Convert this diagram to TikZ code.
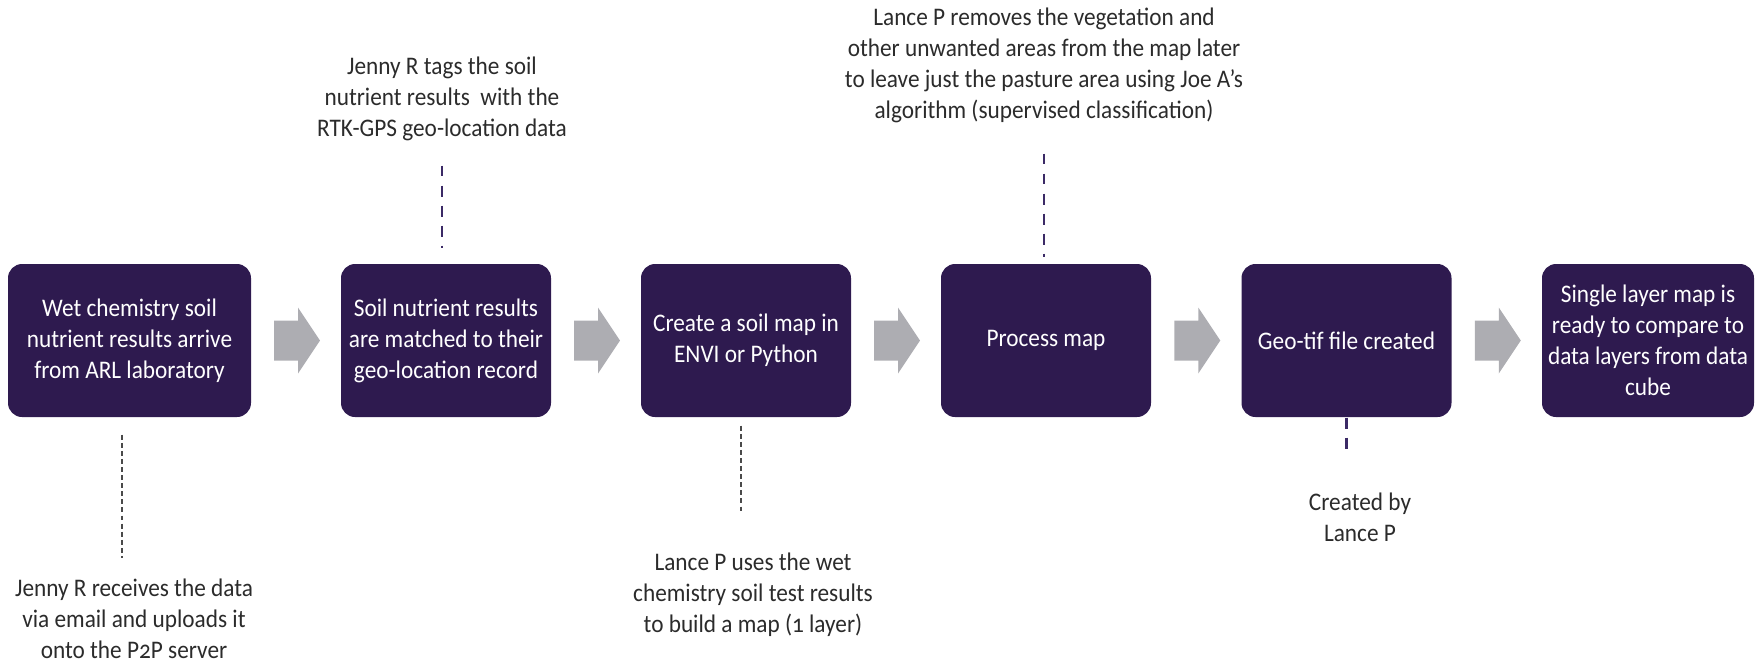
\documentclass[tikz,border=0pt]{standalone}
\usepackage{fontspec}
\setmainfont{Carlito}[Numbers=OldStyle,FakeStretch=0.92]
\usepackage{xcolor}
\usepackage{tikz}
\usetikzlibrary{positioning,calc}
\definecolor{BoxPurple}{HTML}{2E1A4F}
\definecolor{LinePurple}{HTML}{3B2A66}
\definecolor{ArrowGray}{HTML}{ADADB2}
\definecolor{TextDark}{HTML}{2B2B2B}
\definecolor{LineGray}{HTML}{4A4A4A}

\begin{document}
\begin{tikzpicture}[every node/.style={font=\fontsize{7.2}{8.8}\selectfont},
          stage/.style={fill=BoxPurple,rounded corners=4pt,minimum width=2.10cm,
            minimum height=1.53cm,inner sep=0pt,align=center,text=white},
          note/.style={align=center,inner sep=0pt,text=TextDark},
          owner/.style={LinePurple,line width=0.6pt,dash pattern=on 3.1pt off 2.6pt},
          helper/.style={LineGray,line width=0.35pt,dash pattern=on 1.4pt off 0.9pt},
          flow/.style={fill=ArrowGray}]
        \useasboundingbox (0,0) rectangle (17.57,-6.63);
        % process steps
        \node[stage,minimum width=2.43cm] (b1) at (1.295,-3.405)
        {Wet chemistry soil\\nutrient results arrive\\from ARL laboratory};
        \node[stage] (b2) at (4.46,-3.405)
        {Soil nutrient results\\are matched to their\\geo-location record};
        \node[stage] (b3) at (7.46,-3.405)
        {Create a soil map in\\ENVI or Python};
        \node[stage] (b4) at (10.46,-3.405) {Process map};
        \node[stage] (b5) at (13.465,-3.405) {Geo-tif file created};
        \node[stage,minimum width=2.12cm] (b6) at (16.48,-3.405)
        {Single layer map is\\ready to compare to\\data layers from data\\cube};
        % who does what
        \node[note] (n1) at (1.34,-6.19)
        {Jenny R receives the data\\via email and uploads it\\onto the P2P server};
        \node[note] (n2) at (4.42,-0.99)
        {Jenny R tags the soil\\nutrient results\ \ with the\\RTK-GPS geo-location data};
        \node[note] (n3) at (7.53,-5.95)
        {Lance P uses the wet\\chemistry soil test results\\to build a map (1 layer)};
        \node[note] (n4) at (10.44,-0.655)
        {Lance P removes the vegetation and\\other unwanted areas from the map later\\to leave just the pasture area using Joe A’s\\algorithm (supervised classification)};
        \node[note] (n5) at (13.60,-5.175) {Created by\\Lance P};
        % block arrows
        \foreach \a/\b in {b1/b2,b2/b3,b3/b4,b4/b5,b5/b6}
          \fill[flow] ($(\a.east)!0.5!(\b.west)$) ++(-0.22,0.2) -- ++(0.24,0)
            -- ++(0,0.13) -- ++(0.22,-0.33) -- ++(-0.22,-0.33) -- ++(0,0.13)
            -- ++(-0.24,0) -- cycle;
        % dashed leaders
        \draw[helper,shorten <=1.7mm,shorten >=2.1mm]
          ($(b1.south)+(-0.075,0)$) -- ($(b1.south |- n1.north)+(-0.075,0)$);
        \draw[owner,shorten <=2.4mm,shorten >=1.5mm] (n2.south) -- (n2.south |- b2.north);
        \draw[helper,shorten <=0.8mm,shorten >=4.1mm]
          ($(b3.south)+(-0.05,0)$) -- ($(b3.south |- n3.north)+(-0.05,0)$);
        \draw[owner,shorten <=3mm,shorten >=0.6mm] (n4.south) -- (n4.south |- b4.north);
        \draw[owner,shorten >=4mm] (b5.south) -- (b5.south |- n5.north);
      \end{tikzpicture}
\end{document}
